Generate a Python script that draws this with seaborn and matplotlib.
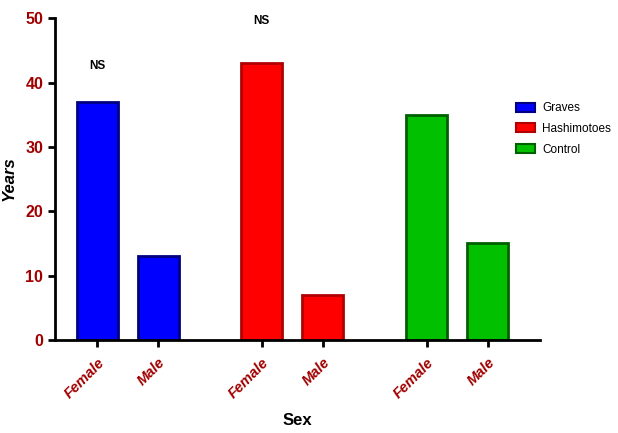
"""
Age by sex across thyroid groups - bar chart
"""
import numpy as np
import pandas as pd
import matplotlib
matplotlib.use('Agg')
import matplotlib.pyplot as plt
import seaborn as sns

# data
groups = ['Graves', 'Hashimotoes', 'Control']
sexes = ['Female', 'Male']
graves_vals = [37, 13]
hashimotoes_vals = [43, 7]
control_vals = [35, 15]
ns_values = [42.5, 49.5]   # y of the "NS" labels (Graves, Hashimotoes)

fill_colors = ['#0000FF', '#FF0000', '#00C000']
edge_colors = ['#000080', '#B00000', '#006000']
tick_red = '#A00000'

group_gap = 2.7  # distance between group starts, in bar units

rows = []
for g, (name, vals) in enumerate(zip(groups, [graves_vals, hashimotoes_vals, control_vals])):
    for s, (sex, v) in enumerate(zip(sexes, vals)):
        rows.append({'pos': g * group_gap + s, 'Years': v, 'group': name, 'sex': sex})
df = pd.DataFrame(rows)

sns.set_style('ticks')
plt.rcParams['font.family'] = ['Liberation Sans', 'DejaVu Sans']
plt.rcParams['text.color'] = 'black'
plt.rcParams['axes.labelcolor'] = 'black'

fig = plt.figure(figsize=(6.18, 4.33), dpi=100)
ax = fig.add_axes([0.089, 0.215, 0.785, 0.743])

sns.barplot(data=df, x='pos', y='Years', hue='group', hue_order=groups,
            palette=fill_colors, saturation=1, native_scale=True, dodge=False,
            width=0.67, linewidth=2, ax=ax, legend=True)

# darker outlines per group
for container, ec in zip(ax.containers, edge_colors):
    for bar in container:
        bar.set_edgecolor(ec)
        bar.set_linewidth(2)

ax.set_ylim(0, 50)
ax.set_xlim(-0.69, df['pos'].max() + 0.86)
ax.set_yticks(np.arange(0, 51, 10))
ax.set_xticks(df['pos'])
ax.set_xticklabels(df['sex'], rotation=45, ha='right', rotation_mode='anchor',
                   color=tick_red, fontweight='bold', fontstyle='italic', fontsize=10.5)
for lab in ax.get_yticklabels():
    lab.set_color(tick_red)
    lab.set_fontweight('bold')
    lab.set_fontsize(11.5)

ax.tick_params(axis='both', width=2, length=5, direction='out', color='black')
ax.tick_params(axis='x', pad=6)
for sp in ['left', 'bottom']:
    ax.spines[sp].set_linewidth(2)
    ax.spines[sp].set_color('black')
sns.despine(ax=ax)

ax.set_xlabel('Sex', fontweight='bold', fontsize=12, labelpad=9)
ax.set_ylabel('Years', fontweight='bold', fontstyle='italic', fontsize=12, labelpad=6)

# NS annotations above female bars
female_pos = df[df['sex'] == 'Female']['pos'].values
for x, y in zip(female_pos[:2], ns_values):
    ax.text(x, y, 'NS', ha='center', va='center', fontsize=8.5, fontweight='bold')

leg = ax.legend(loc='upper left', bbox_to_anchor=(0.822, 0.783), bbox_transform=fig.transFigure,
                frameon=False, fontsize=8.5, handlelength=1.6, handleheight=0.8,
                handletextpad=0.6, labelspacing=0.75, borderpad=0.2, title=None)
for h, ec in zip(leg.legend_handles, edge_colors):
    h.set_edgecolor(ec)
    h.set_linewidth(1.5)

fig.savefig('out.png', dpi=100)
